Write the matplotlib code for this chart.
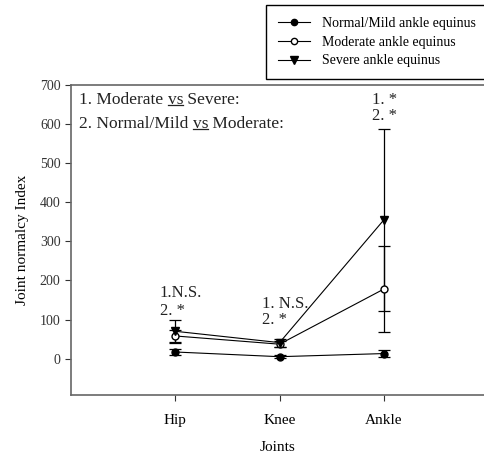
import matplotlib
matplotlib.use("Agg")
import matplotlib.pyplot as plt
from matplotlib.lines import Line2D

plt.rcParams["font.family"] = ["Liberation Serif", "DejaVu Serif"]

# ==========================
# DATA
# ==========================

joints = ["Hip", "Knee", "Ankle"]
xpos = [1, 2, 3]

normal_mean = [17, 5, 13]
normal_err = [8, 4, 9]

moderate_mean = [58, 37, 178]
moderate_err = [16, 8, 109]

severe_mean = [70, 41, 355]
severe_err = [30, 10, 233]

# ==========================
# FIGURE
# ==========================

fig = plt.figure(figsize=(4.85, 4.57), dpi=100)
ax = fig.add_axes([71 / 485, 1 - 395 / 457, 1 - 71 / 485, (395 - 85) / 457])

line_kw = dict(color="black", lw=0.8, elinewidth=0.9, capsize=4, capthick=0.9)

ax.errorbar(xpos, normal_mean, yerr=normal_err, marker="o", ms=5,
            mfc="black", mec="black", **line_kw)
ax.errorbar(xpos, moderate_mean, yerr=moderate_err, marker="o", ms=5,
            mfc="white", mec="black", **line_kw)
ax.errorbar(xpos, severe_mean, yerr=severe_err, marker="v", ms=6,
            mfc="black", mec="black", **line_kw)

ax.set_xlim(0, 3.97)
ax.set_ylim(-93, 700)
ax.set_xticks(xpos)
ax.set_xticklabels(joints, fontsize=11)
ax.set_yticks([0, 100, 200, 300, 400, 500, 600, 700])
ax.tick_params(axis="y", labelsize=10, colors="#333333", direction="out", length=4)
ax.tick_params(axis="x", direction="out", length=4, colors="#333333", labelcolor="black", pad=10)

ax.spines["right"].set_visible(False)
for s in ["left", "top", "bottom"]:
    ax.spines[s].set_color("#666666")
    ax.spines[s].set_linewidth(1.2)

ax.set_xlabel("Joints", fontsize=11, labelpad=10)
ax.set_ylabel("Joint normalcy Index", fontsize=11, labelpad=8)

# ==========================
# ANNOTATIONS
# ==========================

fs = 12
fs_top = 12.5
tcol = "#222222"

t1 = ax.text(0.077, 662, "1. Moderate ", fontsize=fs_top, color=tcol, va="center")
t1b = ax.annotate("vs", xy=(1, 0), xycoords=t1, va="bottom", ha="left",
                  fontsize=fs_top, color=tcol)
t1c = ax.annotate(" Severe:", xy=(1, 0), xycoords=t1b, va="bottom", ha="left",
                  fontsize=fs_top, color=tcol)

t2 = ax.text(0.077, 601, "2. Normal/Mild ", fontsize=fs_top, color=tcol, va="center")
t2b = ax.annotate("vs", xy=(1, 0), xycoords=t2, va="bottom", ha="left",
                  fontsize=fs_top, color=tcol)
t2c = ax.annotate(" Moderate:", xy=(1, 0), xycoords=t2b, va="bottom", ha="left",
                  fontsize=fs_top, color=tcol)

ax.text(0.853, 169, "1.N.S.", fontsize=fs, color=tcol, va="center")
ax.text(0.853, 123, "2. *", fontsize=fs, color=tcol, va="center")
ax.text(1.83, 141, "1. N.S.", fontsize=fs, color=tcol, va="center")
ax.text(1.83, 100, "2. *", fontsize=fs, color=tcol, va="center")
ax.text(2.886, 662, "1. *", fontsize=fs, color=tcol, va="center")
ax.text(2.886, 621, "2. *", fontsize=fs, color=tcol, va="center")

# legend with plain line + marker handles
handles = [
    Line2D([], [], color="black", lw=0.8, marker="o", ms=4.5, mfc="black", mec="black"),
    Line2D([], [], color="black", lw=0.8, marker="o", ms=4.5, mfc="white", mec="black"),
    Line2D([], [], color="black", lw=0.8, marker="v", ms=5.5, mfc="black", mec="black"),
]
labels = ["Normal/Mild ankle equinus", "Moderate ankle equinus", "Severe ankle equinus"]
fig.legend(handles, labels, loc="upper right", bbox_to_anchor=(1.005, 0.989),
           borderaxespad=0, fontsize=10, frameon=True, fancybox=False,
           edgecolor="black", framealpha=1, handlelength=2.3, handletextpad=0.85,
           borderpad=0.85, labelspacing=0.42)

# underline the "vs"
fig.canvas.draw()
for t in [t1b, t2b]:
    bb = t.get_window_extent()
    yline = bb.y0 + 3
    fig.add_artist(Line2D([bb.x0 + 0.5, bb.x1 - 0.5], [yline, yline],
                          transform=None, color=tcol, lw=0.9))

fig.savefig("out.png", dpi=100)
